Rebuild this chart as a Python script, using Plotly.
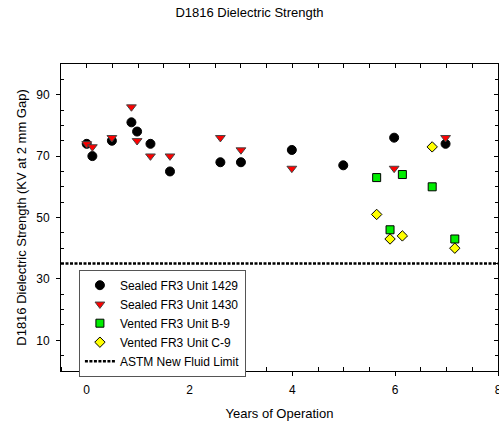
import plotly.graph_objects as go

# Data
x_1429 = [0.0, 0.11, 0.49, 0.87, 0.98, 1.24, 1.62, 2.6, 3.0, 3.99, 4.99, 5.98, 6.98]
y_1429 = [74, 70, 75, 81, 78, 74, 65, 68, 68, 72, 67, 76, 74]

x_1430 = [0.0, 0.11, 0.49, 0.87, 0.98, 1.24, 1.62, 2.6, 3.0, 3.99, 5.98, 6.98]
y_1430 = [74, 73, 76, 86, 75, 70, 70, 76, 72, 66, 66, 76]

x_b9 = [5.64, 5.9, 6.14, 6.72, 7.16]
y_b9 = [63, 46, 64, 60, 43]

x_c9 = [5.64, 5.9, 6.14, 6.72, 7.16]
y_c9 = [51, 43, 44, 73, 40]

astm_limit = 35
x_range = [-0.5, 8]
y_range = [0, 100]
x_ticks = [0, 2, 4, 6, 8]
y_ticks = [10, 30, 50, 70, 90]

font = "Liberation Sans, Arial, sans-serif"

fig = go.Figure()
fig.add_trace(go.Scatter(x=x_1429, y=y_1429, mode="markers", name="Sealed FR3 Unit 1429",
                         marker=dict(symbol="circle", size=9, color="black",
                                     line=dict(color="black", width=1))))
fig.add_trace(go.Scatter(x=x_1430, y=y_1430, mode="markers", name="Sealed FR3 Unit 1430",
                         marker=dict(symbol="triangle-down", size=8.5, color="#ff0000",
                                     line=dict(color="#444444", width=1))))
fig.add_trace(go.Scatter(x=x_b9, y=y_b9, mode="markers", name="Vented FR3 Unit B-9",
                         marker=dict(symbol="square", size=8, color="#00ee00",
                                     line=dict(color="black", width=1))))
fig.add_trace(go.Scatter(x=x_c9, y=y_c9, mode="markers", name="Vented FR3 Unit C-9",
                         marker=dict(symbol="diamond", size=8, color="#ffff00",
                                     line=dict(color="black", width=1))))
fig.add_trace(go.Scatter(x=x_range, y=[astm_limit, astm_limit], mode="lines",
                         name="ASTM New Fluid Limit",
                         line=dict(color="black", width=2.5, dash="3px,1.5px")))

# mirror axes for inside ticks on top/right
fig.add_trace(go.Scatter(x=[None], y=[None], xaxis="x2", yaxis="y2", showlegend=False,
                         hoverinfo="skip"))

minor_x = [-0.5, 0.5, 1, 1.5, 2.5, 3, 3.5, 4.5, 5, 5.5, 6.5, 7, 7.5]
minor_y = [5, 15, 20, 25, 35, 40, 45, 55, 60, 65, 75, 80, 85, 95]

fig.update_layout(
    width=499, height=425,
    margin=dict(l=61, r=1, t=64, b=54, autoexpand=False),
    paper_bgcolor="white", plot_bgcolor="white",
    font=dict(family=font, size=12, color="black"),
    title=dict(text="D1816 Dielectric Strength", x=0.5, xanchor="center",
               y=1 - 12 / 425, yanchor="middle", font=dict(size=13)),
    showlegend=True,
    legend=dict(x=0.041, y=0.33, xanchor="left", yanchor="top",
                bgcolor="white", bordercolor="#555555", borderwidth=1,
                font=dict(size=12), tracegroupgap=0, itemwidth=30),
    xaxis=dict(range=x_range, tickvals=x_ticks, ticks="outside", ticklen=4,
               tickwidth=1, tickcolor="black", ticklabeloverflow="allow",
               automargin=False,
               showline=True, linecolor="black", linewidth=1, showgrid=False,
               zeroline=False, ticklabelstandoff=4,
               minor=dict(ticks="inside", tickvals=minor_x,
                          ticklen=4, tickcolor="black", showgrid=False),
               title=dict(text="Years of Operation", font=dict(size=13), standoff=12)),
    yaxis=dict(range=y_range, tickvals=y_ticks, ticks="outside", ticklen=4,
               tickwidth=1, tickcolor="black", automargin=False,
               showline=True, linecolor="black", linewidth=1, showgrid=False,
               zeroline=False, ticklabelstandoff=4,
               minor=dict(ticks="inside", tickvals=minor_y,
                          ticklen=3, tickcolor="black", showgrid=False),
               title=dict(text="D1816 Dielectric Strength (KV at 2 mm Gap)",
                          font=dict(size=13), standoff=6)),
    xaxis2=dict(range=x_range, overlaying="x", side="top", showline=True, linecolor="black",
                linewidth=1, showgrid=False, zeroline=False, showticklabels=False,
                automargin=False,
                ticks="inside", ticklen=4, tickcolor="black",
                tickvals=[i * 0.5 for i in range(0, 17)]),
    yaxis2=dict(range=y_range, overlaying="y", side="right", showline=True, linecolor="black",
                linewidth=1, showgrid=False, zeroline=False, showticklabels=False,
                automargin=False,
                ticks="inside", ticklen=4, tickcolor="black",
                tickvals=y_ticks,
                minor=dict(ticks="inside", tickvals=minor_y,
                           ticklen=3, tickcolor="black", showgrid=False)),
)

fig.write_html("out.html")
